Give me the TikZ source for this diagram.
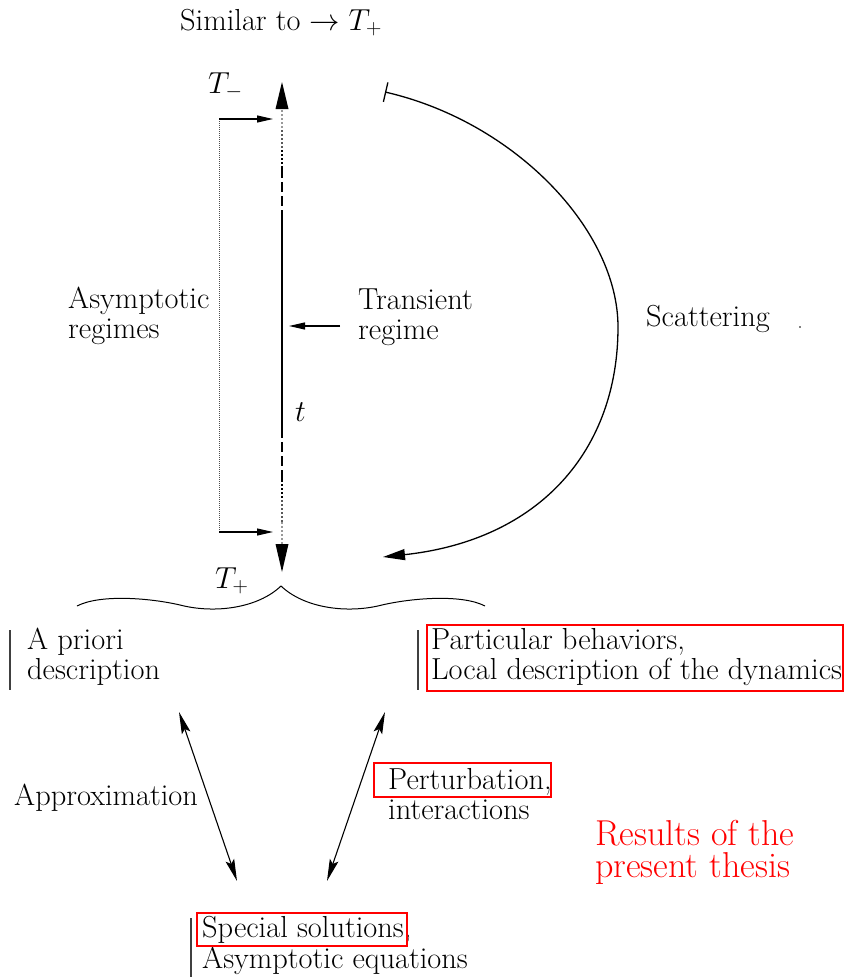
\RequirePackage{fix-cm}
\documentclass[tikz,border=0pt]{standalone}
\usetikzlibrary{arrows.meta}
\tikzset{
  lbl/.style={anchor=base west, inner sep=0pt, font=\fontsize{30.4}{30}\selectfont},
  redlbl/.style={anchor=base west, inner sep=0pt, text=red, align=left, font=\fontsize{36}{32}\selectfont},
  redbox/.style={draw=red, line width=1.2pt},
  sidebar/.style={draw=black!75, line width=1.2pt},
  thinarrow/.style={line width=1.1pt, -{Triangle[length=16pt,width=7pt]}},
  dblarrow/.style={line width=1.1pt, {Stealth[length=22pt,width=9pt,inset=4pt]}-{Stealth[length=22pt,width=9pt,inset=4pt]}},
  dotseg/.style={line width=2.8pt, dash pattern=on 2pt off 2pt},
  dashseg/.style={line width=2pt, dash pattern=on 10pt off 4pt},
}
\begin{document}
\begin{tikzpicture}[x=1pt,y=-1pt]
\useasboundingbox (0,0) rectangle (844,977);

% ---- texts ----
\node[lbl] (sim) at (180,30) {Similar to $\rightarrow T_+$};
\node[lbl] (tminus) at (208,93) {$T_-$};
\node[lbl] (tplus) at (215,588) {$T_+$};
\node[lbl] (tlab) at (295,421) {$t$};
\node[lbl] (asy1) at (68,308) {Asymptotic};
\node[lbl] (asy2) at (68,338) {regimes};
\node[lbl] (tr1) at (358,309) {Transient};
\node[lbl] (tr2) at (358,339) {regime};
\node[lbl] (scat) at (646,326) {Scattering};
\node[lbl] (ap1) at (27,649) {A priori};
\node[lbl] (ap2) at (27,679) {description};
\node[lbl] (pb1) at (431,649) {Particular behaviors,};
\node[lbl] (pb2) at (431,679) {Local description of the dynamics};
\node[lbl] (approx) at (14,805) {Approximation};
\node[lbl] (pert1) at (388,789) {Perturbation,};
\node[lbl] (pert2) at (388,819) {interactions};
\node[redlbl] (res) at (595,877) {Results of the\\present thesis};
\node[lbl] (sp1) at (202,937) {Special solutions,};
\node[lbl] (sp2) at (202,968) {Asymptotic equations};

% ---- boxes and side bars ----
\draw[redbox] (427,625) rectangle (843,691);
\draw[redbox] (374,763) rectangle (551,797);
\draw[redbox] (197,913) rectangle (407,946);
\draw[sidebar] (10,630) -- (10,690);
\draw[sidebar] (418,630) -- (418,690);
\draw[sidebar] (191,918) -- (191,977);

% ---- time axis ----
\coordinate (axtop) at (282,82);
\coordinate (axbot) at (282,572);
\fill (axtop) -- (275.5,109) -- (288.5,109) -- cycle;
\fill (axbot) -- (275.5,544) -- (288.5,544) -- cycle;
\draw[dotseg, black!40] (282,110) -- (282,130);
\draw[dotseg, black!65] (282,130) -- (282,150);
\draw[dotseg, black] (282,150) -- (282,168);
\draw[dashseg] (282,168) -- (282,215);
\draw[line width=2pt] (282,215) -- (282,428);
\draw[dashseg] (282,428) -- (282,480);
\draw[dotseg, black] (282,480) -- (282,500);
\draw[dotseg, black!65] (282,500) -- (282,522);
\draw[dotseg, black!40] (282,522) -- (282,544);

% ---- asymptotic bracket ----
\coordinate (br1) at (219,119);
\coordinate (br2) at (219,532);
\coordinate (br1e) at (273,119);
\coordinate (br2e) at (273,532);
\draw[black!70, line width=0.8pt, dash pattern=on 1pt off 1pt] (br1) -- (br2);
\draw[thinarrow] (br1) -- (br1e);
\draw[thinarrow] (br2) -- (br2e);

% ---- transient arrow ----
\coordinate (trs) at (340,326);
\coordinate (tre) at (289,326);
\draw[thinarrow] (trs) -- (tre);

% ---- scattering arc ----
\coordinate (sc0) at (385,92);
\coordinate (sc1) at (618,327);
\coordinate (sc2) at (383,557);
\draw[line width=1.3pt, {Bar[width=20pt]}-{Triangle[length=22pt,width=11pt]}]
  (sc0) .. controls (515,122) and (618,230) .. (sc1)
        .. controls (618,450) and (540,540) .. (sc2);
\fill (800,327) circle (0.8);

% ---- brace ----
\draw[line width=1pt] (77,606) .. controls (100,594) and (150,598) .. (180,605)
  .. controls (215,614) and (258,608) .. (281,586)
  .. controls (304,608) and (347,614) .. (382,605)
  .. controls (412,598) and (462,594) .. (485,606);

% ---- lower arrows ----
\coordinate (la1) at (179,712);
\coordinate (la2) at (237,881);
\coordinate (ra1) at (385,712);
\coordinate (ra2) at (327,881);
\draw[dblarrow] (la1) -- (la2);
\draw[dblarrow] (ra1) -- (ra2);
\end{tikzpicture}
\end{document}
